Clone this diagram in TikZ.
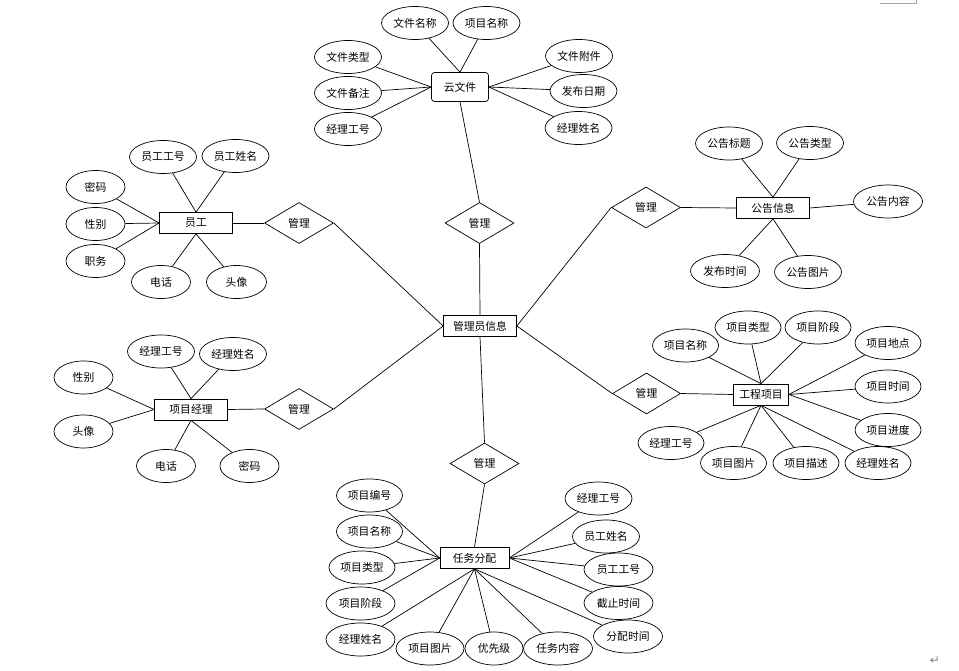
\documentclass[tikz,border=0pt]{standalone}
\usepackage{fontspec}
\setmainfont{Noto Sans CJK SC}
\newfontfamily\symfont{DejaVu Sans}
\usetikzlibrary{shapes.geometric}
\begin{document}
\begin{tikzpicture}[x=1pt, y=-1pt, line width=0.7pt, font=\fontsize{10.8}{12}\selectfont,
    attrStyle/.style={ellipse, draw, minimum width=67pt, minimum height=33pt, inner sep=0pt},
    entStyle/.style={rectangle, draw, minimum width=73pt, minimum height=21pt, inner sep=0pt},
    relStyle/.style={diamond, draw, minimum width=69pt, minimum height=41pt, inner sep=0pt}]
    \useasboundingbox (0,0) rectangle (959,671);

    % centre
    \node[entStyle](admin) at (480, 326) {管理员信息};

    % cloud file
    \node[entStyle, rounded corners=3pt, minimum width=57pt, minimum height=29pt](file) at (460, 87) {云文件};
    \node[attrStyle](f1) at (415, 23) {文件名称};
    \node[attrStyle](f2) at (486.5, 23) {项目名称};
    \node[attrStyle](f3) at (348, 57) {文件类型};
    \node[attrStyle](f4) at (348, 93) {文件备注};
    \node[attrStyle](f5) at (348, 129) {经理工号};
    \node[attrStyle](f6) at (579, 56) {文件附件};
    \node[attrStyle](f7) at (583.5, 91) {发布日期};
    \node[attrStyle](f8) at (578.5, 128) {经理姓名};
    \node[relStyle](rf) at (479.5, 223) {管理};

    % staff
    \node[entStyle](emp) at (196, 223) {员工};
    \node[attrStyle](e1) at (163, 157) {员工工号};
    \node[attrStyle](e2) at (235.5, 156) {员工姓名};
    \node[attrStyle, minimum width=59pt](e3) at (95.5, 187) {密码};
    \node[attrStyle, minimum width=59pt](e4) at (95.5, 224) {性别};
    \node[attrStyle, minimum width=59pt](e5) at (95.5, 261) {职务};
    \node[attrStyle, minimum width=59pt](e6) at (161, 282) {电话};
    \node[attrStyle, minimum width=60pt](e7) at (236.5, 282) {头像};
    \node[relStyle](re) at (299, 223) {管理};

    % project manager
    \node[entStyle](mgr) at (191, 409.5) {项目经理};
    \node[attrStyle](m1) at (161, 351.5) {经理工号};
    \node[attrStyle](m2) at (233, 354) {经理姓名};
    \node[attrStyle, minimum width=59pt](m3) at (83.5, 377.5) {性别};
    \node[attrStyle, minimum width=59pt](m4) at (83.5, 431.5) {头像};
    \node[attrStyle, minimum width=59pt](m5) at (166, 466) {电话};
    \node[attrStyle, minimum width=59pt](m6) at (249.5, 466) {密码};
    \node[relStyle](rm) at (299, 409) {管理};

    % notice
    \node[entStyle](note) at (773, 208) {公告信息};
    \node[attrStyle](n1) at (729, 143.5) {公告标题};
    \node[attrStyle](n2) at (810, 143) {公告类型};
    \node[attrStyle, minimum width=69pt](n3) at (888, 201.5) {公告内容};
    \node[attrStyle, minimum width=69pt](n4) at (725, 271) {发布时间};
    \node[attrStyle](n5) at (808, 272) {公告图片};
    \node[relStyle](rn) at (646, 207.5) {管理};

    % project
    \node[entStyle, minimum width=55pt](proj) at (761, 394.5) {工程项目};
    \node[attrStyle, minimum width=66pt](p1) at (685.5, 345.5) {项目名称};
    \node[attrStyle, minimum width=66pt](p2) at (748, 327.5) {项目类型};
    \node[attrStyle, minimum width=66pt](p3) at (818, 327.5) {项目阶段};
    \node[attrStyle, minimum width=66pt](p4) at (888, 343) {项目地点};
    \node[attrStyle, minimum width=66pt](p5) at (888, 386.5) {项目时间};
    \node[attrStyle, minimum width=66pt](p6) at (888, 430) {项目进度};
    \node[attrStyle, minimum width=66pt](p7) at (878, 463) {经理姓名};
    \node[attrStyle, minimum width=66pt](p8) at (806, 463) {项目描述};
    \node[attrStyle, minimum width=66pt](p9) at (733.5, 463) {项目图片};
    \node[attrStyle, minimum width=66pt](p10) at (671, 443) {经理工号};
    \node[relStyle, minimum width=68pt](rp) at (646.5, 393.5) {管理};

    % task
    \node[entStyle, minimum width=69pt](task) at (474.5, 558) {任务分配};
    \node[attrStyle, minimum width=66pt](t1) at (369.5, 495.5) {项目编号};
    \node[attrStyle, minimum width=66pt](t2) at (369.5, 531.5) {项目名称};
    \node[attrStyle, minimum width=66pt](t3) at (362, 567.5) {项目类型};
    \node[attrStyle, minimum width=69pt](t4) at (360.5, 603.5) {项目阶段};
    \node[attrStyle, minimum width=69pt](t5) at (360.5, 639.5) {经理姓名};
    \node[attrStyle, minimum width=68pt](t6) at (430, 648.5) {项目图片};
    \node[attrStyle, minimum width=58pt](t7) at (494, 648.5) {优先级};
    \node[attrStyle, minimum width=69pt](t8) at (558, 648.5) {任务内容};
    \node[attrStyle, minimum width=69pt](t9) at (628, 636.5) {分配时间};
    \node[attrStyle, minimum width=69pt](t10) at (618.5, 603) {截止时间};
    \node[attrStyle, minimum width=69pt](t11) at (618.5, 569.5) {员工工号};
    \node[attrStyle](t12) at (606, 536.5) {员工姓名};
    \node[attrStyle](t13) at (598.5, 498.5) {经理工号};
    \node[relStyle](rt) at (484.5, 463.5) {管理};

    % page marks
    \draw[gray!70, line width=0.6pt] (880, 3.3) -- (916, 3.3) -- (916, 0);
    \node[text=gray, font=\symfont\fontsize{12}{12}\selectfont](ret) at (935, 661) {↵};

    % cloud file links
    \draw (file.north) -- (f1);
    \draw (file.north) -- (f2);
    \draw (file.west) -- (f3);
    \draw (file.west) -- (f4);
    \draw (file.west) -- (f5);
    \draw (file.east) -- (f6);
    \draw (file.east) -- (f7);
    \draw (file.east) -- (f8);
    \draw (file.south) -- (rf.north);
    \draw (rf.south) -- (admin.north);

    % staff links
    \draw (emp.north) -- (e1);
    \draw (emp.north) -- (e2);
    \draw (emp.west) -- (e3);
    \draw (emp.west) -- (e4);
    \draw (emp.west) -- (e5);
    \draw (emp.south) -- (e6);
    \draw (emp.south) -- (e7);
    \draw (emp.east) -- (re.west);
    \draw (re.east) -- (admin.west);

    % manager links
    \draw (mgr.north) -- (m1);
    \draw (mgr.north) -- (m2);
    \draw (mgr.west) -- (m3);
    \draw (mgr.west) -- (m4);
    \draw (mgr.south) -- (m5);
    \draw (mgr.south) -- (m6);
    \draw (mgr.east) -- (rm.west);
    \draw (rm.east) -- (admin.west);

    % notice links
    \draw (note.north) -- (n1);
    \draw (note.north) -- (n2);
    \draw (note.east) -- (n3);
    \draw (note.south) -- (n4);
    \draw (note.south) -- (n5);
    \draw (note.west) -- (rn.east);
    \draw (rn.west) -- (admin.east);

    % project links
    \draw (proj.north) -- (p1);
    \draw (proj.north) -- (p2);
    \draw (proj.north) -- (p3);
    \draw (proj.east) -- (p4);
    \draw (proj.east) -- (p5);
    \draw (proj.east) -- (p6);
    \draw (proj.south) -- (p7);
    \draw (proj.south) -- (p8);
    \draw (proj.south) -- (p9);
    \draw (proj.south) -- (p10);
    \draw (proj.west) -- (rp.east);
    \draw (rp.west) -- (admin.east);

    % task links
    \draw (admin.south) -- (rt.north);
    \draw (rt.south) -- (task.north);
    \draw (task.west) -- (t1);
    \draw (task.west) -- (t2);
    \draw (task.west) -- (t3);
    \draw (task.west) -- (t4);
    \draw (task.south) -- (t5);
    \draw (task.south) -- (t6);
    \draw (task.south) -- (t7);
    \draw (task.south) -- (t8);
    \draw (task.south) -- (t9);
    \draw (task.east) -- (t10);
    \draw (task.east) -- (t11);
    \draw (task.east) -- (t12);
    \draw (task.east) -- (t13);
\end{tikzpicture}
\end{document}
